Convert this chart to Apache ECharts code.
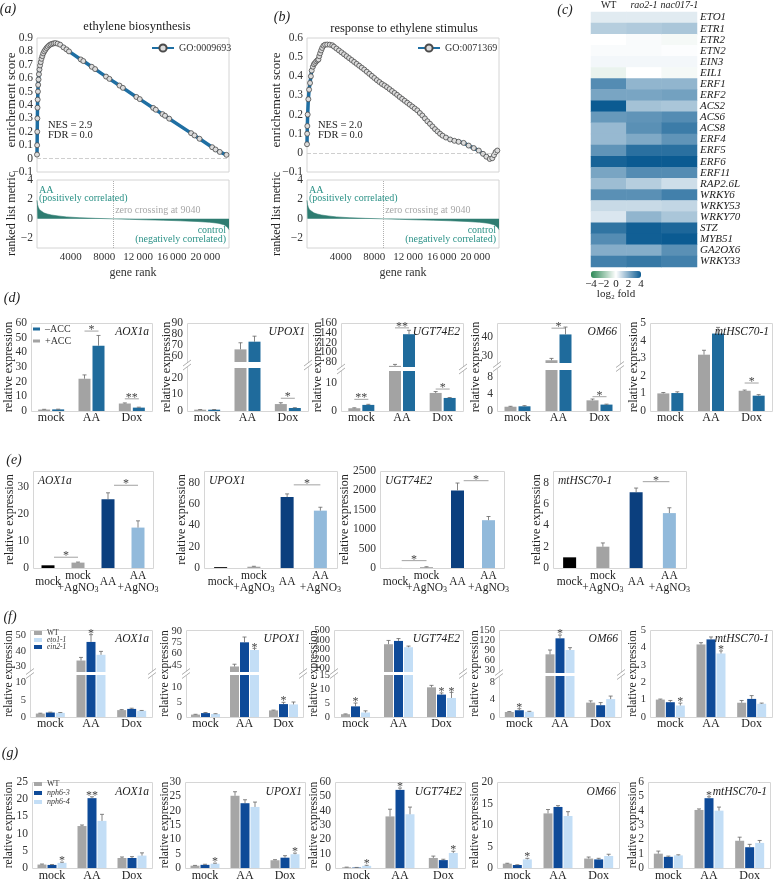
<!DOCTYPE html>
<html>
<head>
<meta charset="utf-8">
<title>ethylene figure</title>
<script src="https://cdn.jsdelivr.net/npm/echarts@6/dist/echarts.min.js"></script>
<style>
  html, body { margin: 0; padding: 0; background: #fff; }
  #chart { width: 776px; height: 882px; }
</style>
</head>
<body>
<div id="chart"></div>
<script>
// ---------- (a) (b) GSEA: running enrichment score, [gene rank, ES] ----------
const esBiosynthesis = [
  [0, 0.03], [15, 0.1], [30, 0.2], [45, 0.3], [60, 0.38], [80, 0.44], [110, 0.5], [140, 0.55], [180, 0.59],
  [230, 0.63], [290, 0.665], [360, 0.695], [440, 0.72], [530, 0.745], [630, 0.765], [740, 0.785], [860, 0.8],
  [990, 0.812], [1130, 0.825], [1280, 0.835], [1440, 0.845], [1610, 0.852], [1800, 0.857], [2000, 0.86],
  [2200, 0.862], [2450, 0.858], [2750, 0.85], [3150, 0.83], [3500, 0.815], [3800, 0.8], [5200, 0.74],
  [5500, 0.728], [6500, 0.685], [6900, 0.668], [8200, 0.612], [8600, 0.595], [9800, 0.545], [10200, 0.528],
  [11800, 0.46], [12200, 0.444], [13800, 0.378], [14100, 0.365], [14900, 0.332], [15200, 0.32], [15700, 0.298],
  [18300, 0.19], [18700, 0.173], [19300, 0.148], [20800, 0.085], [21200, 0.068], [21700, 0.05], [22500, 0.028]
];
const esResponse = [
  [0, 0.045], [20, 0.1], [40, 0.14], [80, 0.2], [160, 0.28], [250, 0.33], [360, 0.365], [460, 0.4], [560, 0.43],
  [700, 0.45], [820, 0.463], [960, 0.47], [1100, 0.478], [1250, 0.484], [1360, 0.488], [1450, 0.505],
  [1560, 0.52], [1680, 0.535], [1800, 0.548], [1960, 0.56], [2150, 0.565], [2400, 0.566], [2700, 0.565],
  [3000, 0.562], [3200, 0.555], [3500, 0.545], [3800, 0.535], [4100, 0.525], [4400, 0.515], [4700, 0.505],
  [5000, 0.495], [5300, 0.485], [5600, 0.475], [5900, 0.465], [6200, 0.455], [6500, 0.445], [6800, 0.435],
  [7100, 0.424], [7400, 0.413], [7700, 0.402], [8000, 0.391], [8300, 0.38], [8600, 0.37], [8900, 0.36],
  [9200, 0.352], [9500, 0.343], [9800, 0.333], [10100, 0.323], [10400, 0.313], [10700, 0.303], [11000, 0.292],
  [11300, 0.282], [11600, 0.272], [11900, 0.262], [12200, 0.252], [12500, 0.242], [12800, 0.232],
  [13100, 0.222], [13400, 0.208], [13700, 0.195], [14000, 0.18], [14300, 0.165], [14600, 0.152],
  [14900, 0.138], [15200, 0.124], [15500, 0.112], [15800, 0.1], [16100, 0.09], [16500, 0.08], [17000, 0.07],
  [17500, 0.063], [18000, 0.058], [18600, 0.052], [19200, 0.038], [19800, 0.025], [20400, 0.012],
  [20900, -0.005], [21300, -0.02], [21700, -0.032], [22000, -0.028], [22200, -0.012], [22400, 0.004], [22600, 0.012]
];
// ranked list metric (same ranking under both sets)
const rankedMetric = [
  [0, 1.9], [50, 1.5], [150, 1.2], [300, 0.95], [500, 0.78], [800, 0.62], [1200, 0.5], [1700, 0.4], [2500, 0.3],
  [3500, 0.2], [5000, 0.12], [7000, 0.05], [9040, 0], [11000, -0.05], [13000, -0.1], [15000, -0.14],
  [17000, -0.2], [19000, -0.27], [20500, -0.35], [21500, -0.45], [22200, -0.6], [22600, -0.85], [22800, -1.1]
];
const zeroCrossing = 9040;
const rankMax = 22800;
const rankTicks = [4000, 8000, 12000, 16000, 20000];
const esTicksA = [-0.1, 0, 0.1, 0.2, 0.3, 0.4, 0.5, 0.6, 0.7, 0.8, 0.9];
const esTicksB = [-0.1, 0, 0.1, 0.2, 0.3, 0.4, 0.5, 0.6];
const metricTicks = [-2, 0, 2, 4];

// ---------- (c) heatmap, log2 fold ----------
const heatGenes = ['ETO1', 'ETR1', 'ETR2', 'ETN2', 'EIN3', 'EIL1', 'ERF1', 'ERF2', 'ACS2', 'ACS6', 'ACS8', 'ERF4',
  'ERF5', 'ERF6', 'ERF11', 'RAP2.6L', 'WRKY6', 'WRKY53', 'WRKY70', 'STZ', 'MYB51', 'GA2OX6', 'WRKY33'];
const heatLines = ['WT', 'rao2-1', 'nac017-1'];
const heatWT = [0.5, 1.2, 0, 0.1, 0.2, -0.4, 2.8, 2.2, 4.2, 2.5, 1.7, 1.7, 2.6, 3.8, 2.2, 1.6, 2.7, 0.9, 0.6, 3.4, 2.8, 2.0, 3.1];
const heatRao2 = [0.5, 1.3, 0.1, 0.1, 0.2, 0, 1.8, 2.2, 1.5, 2.6, 2.7, 2.1, 3.5, 4.5, 2.8, 1.2, 2.7, 0.9, 1.8, 3.9, 3.9, 2.0, 3.3];
const heatNac017 = [0.5, 1.4, -0.2, 0.05, 0.2, -0.2, 1.8, 2.3, 1.4, 2.8, 3.2, 2.6, 3.5, 4.4, 2.8, 0.8, 3.1, 1.0, 1.4, 3.7, 4.3, 2.7, 3.1];
const heatScaleTicks = [-4, -2, 0, 2, 4];

// ---------- (d) -ACC / +ACC ----------
const treatments = ['mock', 'AA', 'Dox'];
const dGenes = ['AOX1a', 'UPOX1', 'UGT74E2', 'OM66', 'mtHSC70-1'];
const dPlusACC = [[1.0, 22, 5.1], [0.8, 66, 4.2], [1.0, 72, 6.5], [1.0, 27.5, 2.5], [1.0, 3.2, 1.15]];
const dPlusACCErr = [[0.15, 2.6, 0.4], [0.1, 6, 0.8], [0.15, 3, 0.5], [0.1, 1, 0.3], [0.05, 0.25, 0.04]];
const dMinusACC = [[1.1, 44.5, 2.3], [0.8, 73, 1.8], [2.2, 137, 4.7], [1.1, 41.5, 1.5], [1.02, 4.4, 0.87]];
const dMinusACCErr = [[0.15, 7, 0.3], [0.1, 5, 0.2], [0.2, 8, 0.15], [0.15, 4, 0.1], [0.07, 0.35, 0.06]];
// [category, y, mark]
const dSig = [
  [[1, 54.5, '*'], [2, 8.3, '**']],
  [[2, 7.7, '*']],
  [[0, 4.2, '**'], [1, 150, '**'], [2, 7.9, '*']],
  [[1, 44.9, '*'], [2, 3.35, '*']],
  [[2, 1.59, '*']]
];

// ---------- (e) AgNO3 ----------
const eGenes = ['AOX1a', 'UPOX1', 'UGT74E2', 'mtHSC70-1'];
const eTreatments = ['mock', 'mock\n+AgNO3', 'AA', 'AA\n+AgNO3'];
const eValues = [[1.0, 2.0, 25.5, 15], [0.8, 1.2, 66.5, 53.8], [1, 22, 2000, 1232], [1.0, 2.0, 7.1, 5.15]];
const eErr = [[0, 0.2, 2.4, 2.5], [0, 0.4, 3, 3.2], [0, 10, 190, 95], [0, 0.35, 0.4, 0.5]];
// [from category, to category, y, mark]
const eSig = [
  [[0, 1, 4.0, '*'], [2, 3, 30.7, '*']],
  [[2, 3, 78, '*']],
  [[0, 1, 190, '*'], [2, 3, 2250, '*']],
  [[2, 3, 8.1, '*']]
];

// ---------- (f) WT / ein2-1 / eto1-1 ----------
const fWT = [[1.0, 34, 2.0], [0.8, 43, 2.2], [1.0, 355, 10.6], [1.15, 77, 3.3], [1.0, 4.17, 0.82]];
const fWTErr = [[0.1, 2, 0.15], [0.1, 3, 0.1], [0.1, 40, 0.7], [0.1, 13, 0.4], [0.03, 0.1, 0.13]];
const fEin2 = [[1.3, 46, 2.35], [1.3, 75, 4.3], [3.8, 390, 8.0], [1.55, 125, 2.7], [0.85, 4.46, 1.04]];
const fEin2Err = [[0.1, 4.7, 0.2], [0.2, 7, 0.6], [1.2, 25, 0.6], [0.35, 10, 0.6], [0.1, 0.14, 0.19]];
const fEto1 = [[1.2, 37.7, 1.8], [1.0, 64.8, 4.2], [1.6, 323, 6.8], [1.2, 90, 4.1], [0.66, 3.65, 0.76]];
const fEto1Err = [[0.1, 2.2, 0.1], [0.1, 2.2, 0.8], [0.6, 12, 2], [0.1, 7, 0.7], [0.14, 0.15, 0.04]];
const fEin2Stars = [['', '*', ''], ['', '', '*'], ['*', '', '*'], ['*', '*', ''], ['', '', '']];
const fEto1Stars = [['', '', ''], ['', '*', ''], ['', '', '*'], ['', '', ''], ['*', '*', '']];

// ---------- (g) WT / nph6-3 / nph6-4 ----------
const gWT = [[1.0, 12.2, 2.9], [0.8, 25.2, 2.7], [0.5, 36, 7], [1.0, 12.7, 2.2], [1.0, 4.05, 1.9]];
const gWTErr = [[0.15, 0.3, 0.3], [0.1, 1.4, 0.2], [0.1, 5, 1.3], [0.1, 0.9, 0.35], [0.18, 0.07, 0.25]];
const gNph63 = [[0.9, 20.3, 2.9], [1.1, 22.6, 3.6], [0.3, 54.5, 5.5], [0.7, 14.2, 2.0], [0.78, 4.87, 1.45]];
const gNph63Err = [[0.1, 0.4, 0.4], [0.2, 1.2, 0.7], [0.1, 1.3, 0.6], [0.05, 0.3, 0.25], [0.05, 0.1, 0.2]];
const gNph64 = [[1.5, 13.7, 3.6], [1.5, 21.3, 4.8], [1.5, 37.5, 10.5], [2.0, 12.1, 2.8], [0.88, 4.0, 1.75]];
const gNph64Err = [[0.2, 1.9, 0.8], [0.2, 1.7, 0.4], [0.4, 5, 1.2], [0.25, 1.0, 0.4], [0.04, 0.25, 0.17]];
const gNph63Stars = [['', '**', ''], ['', '', ''], ['', '*', ''], ['', '', ''], ['', '*', '']];
const gNph64Stars = [['*', '', ''], ['*', '', '*'], ['*', '', '*'], ['*', '', ''], ['', '', '']];

// ================= drawing =================
const SERIF = "'Liberation Serif', 'DejaVu Serif', serif";
const grid = [], xAxis = [], yAxis = [], series = [], legend = [], graphic = [];
const tickJobs = [];   // value-axis labels placed through convertToPixel (dense broken axes)
const noDecor = { axisLine: { show: false }, axisTick: { show: false }, splitLine: { show: false } };

function addCartesian(l, t, r, b, xa, ya, extra) {
  grid.push(Object.assign({ left: l, top: t, width: r - l, height: b - t, outerBoundsMode: 'none' }, extra || {}));
  const gi = grid.length - 1;
  xAxis.push(Object.assign({ gridIndex: gi }, noDecor, xa));
  yAxis.push(Object.assign({ gridIndex: gi }, noDecor, ya));
  return gi;
}

function txt(x, y, text, size, o) {
  o = o || {};
  graphic.push({
    type: 'text', x: x, y: y, rotation: o.rot || 0, z: 50, silent: true,
    style: {
      text: text, fill: o.color || '#222',
      font: (o.italic ? 'italic ' : '') + size + 'px ' + SERIF,
      textAlign: o.align || 'left', textVerticalAlign: o.valign || 'middle'
    }
  });
}

const minusFmt = v => (v < 0 ? '\u2212' + String(-v) : String(v));
const rankFmt = v => (v >= 10000 ? String(v).slice(0, -3) + '\u2009000' : String(v));
function ticksLabel(values, size, fmt) {
  return { customValues: values, showMinLabel: true, showMaxLabel: true, hideOverlap: false,
    formatter: fmt || (v => String(v)), fontFamily: SERIF, fontSize: size, color: '#333', margin: 4 };
}

// ---- GSEA ----
function gseaPanel(o) {
  const gu = addCartesian(o.l, 38, o.r, 172,
    { type: 'value', min: 0, max: rankMax, axisLabel: { show: false } },
    { type: 'value', min: o.esMin, max: o.esMax, axisLabel: ticksLabel(o.esTicks, 11.5, minusFmt) },
    { show: true, borderColor: '#d4d4d4', borderWidth: 1 });
  series.push({
    type: 'line', name: o.go, xAxisIndex: gu, yAxisIndex: gu, data: o.es, z: 3,
    symbol: 'circle', symbolSize: 5, showSymbol: true, showAllSymbol: true,
    lineStyle: { color: '#1f6fa3', width: 3.5 },
    itemStyle: { color: '#dcdcdc', borderColor: '#4a4a4a', borderWidth: 0.8 },
    markLine: { silent: true, symbol: 'none', label: { show: false },
      lineStyle: { color: '#cfcfcf', type: 'dashed', width: 1 }, data: [{ yAxis: 0 }] }
  });
  legend.push({
    data: [o.go], left: o.legX, top: 43, itemWidth: 22, itemHeight: 9, padding: 0, selectedMode: false,
    textStyle: { fontFamily: SERIF, fontSize: 10, color: '#333' }
  });
  const gl = addCartesian(o.l, 180, o.r, 248,
    { type: 'value', min: 0, max: rankMax, axisLabel: ticksLabel(rankTicks, 11, rankFmt),
      name: 'gene rank', nameLocation: 'middle', nameGap: 19,
      nameTextStyle: { fontFamily: SERIF, fontSize: 12, color: '#333', verticalAlign: 'top' } },
    { type: 'value', min: -3, max: 4, axisLabel: ticksLabel(metricTicks, 11.5, minusFmt) },
    { show: true, borderColor: '#d4d4d4', borderWidth: 1 });
  series.push({
    type: 'line', xAxisIndex: gl, yAxisIndex: gl, data: rankedMetric, symbol: 'none', silent: true,
    lineStyle: { width: 0.6, color: '#2e7c71' }, areaStyle: { color: '#2e7c71', opacity: 1 },
    markLine: { silent: true, symbol: 'none', label: { show: false },
      lineStyle: { color: '#b0b0b0', type: 'dotted', width: 1 }, data: [{ xAxis: zeroCrossing }] }
  });
  txt(o.titleX, o.titleY, o.title, 12.5, { align: 'center' });
  txt(o.l + 11, 125, o.nes, 10.5);
  txt(o.l + 11, 135, 'FDR = 0.0', 10.5);
  txt(o.labX, 100, 'enrichement score', 13, { rot: Math.PI / 2, align: 'center' });
  txt(o.labX, 214, 'ranked list metric', 12, { rot: Math.PI / 2, align: 'center' });
  const teal = '#2a9186';
  txt(o.l + 2, 190, 'AA', 10, { color: teal });
  txt(o.l + 2, 198, '(positively correlated)', 10, { color: teal });
  txt(o.l + zeroCrossing / rankMax * (o.r - o.l) + 2, 210, 'zero crossing at ' + zeroCrossing, 10, { color: '#a8a8a8' });
  txt(o.r - 3, 230, 'control', 10, { color: teal, align: 'right' });
  txt(o.r - 3, 239, '(negatively correlated)', 10, { color: teal, align: 'right' });
}

gseaPanel({ l: 37, r: 229, es: esBiosynthesis, go: 'GO:0009693', title: 'ethylene biosynthesis', titleX: 137, titleY: 27,
  esMin: -0.1, esMax: 0.9, esTicks: esTicksA, nes: 'NES = 2.9', legX: 151, labX: 12 });
gseaPanel({ l: 307, r: 499, es: esResponse, go: 'GO:0071369', title: 'response to ethylene stimulus', titleX: 404, titleY: 29,
  esMin: -0.1, esMax: 0.6, esTicks: esTicksB, nes: 'NES = 2.0', legX: 417, labX: 277 });

// ---- heatmap ----
const hg = addCartesian(591, 12, 697, 267,
  { type: 'category', data: heatLines, position: 'top',
    axisLabel: { margin: 2, fontFamily: SERIF, fontSize: 10, color: '#222', interval: 0,
      formatter: (v, i) => (i === 0 ? v : '{it|' + v + '}'),
      rich: { it: { fontStyle: 'italic', fontFamily: SERIF, fontSize: 10, color: '#222' } } } },
  { type: 'category', data: heatGenes, inverse: true, position: 'right',
    axisLabel: { margin: 3, fontFamily: SERIF, fontSize: 11, fontStyle: 'italic', color: '#222', interval: 0 } });
const heatData = [];
[heatWT, heatRao2, heatNac017].forEach((col, c) => col.forEach((v, r) => heatData.push([c, r, v])));
series.push({ type: 'heatmap', xAxisIndex: hg, yAxisIndex: hg, data: heatData, silent: true, itemStyle: { borderWidth: 0 } });
const heatIdx = series.length - 1;
heatScaleTicks.forEach(t => txt(591 + (t + 4) / 8 * 50, 284, minusFmt(t), 11, { align: 'center' }));
txt(616, 294, 'log\u2082 fold', 11, { align: 'center' });

// ---- bar panels ----
function errorBars(off, seg, stars) {
  return function (params, api) {
    const c = api.value(0), v = api.value(1), e = api.value(2);
    if (v < seg.min || v > seg.max) return null;
    const p0 = api.coord([c, v]), p1 = api.coord([c, v + e]);
    const x = p0[0] + off;
    const kids = [];
    if (e > 0) {
      kids.push({ type: 'line', shape: { x1: x, y1: p0[1], x2: x, y2: p1[1] }, style: { stroke: '#666', lineWidth: 0.8 } });
      kids.push({ type: 'line', shape: { x1: x - 2, y1: p1[1], x2: x + 2, y2: p1[1] }, style: { stroke: '#666', lineWidth: 0.8 } });
    }
    const s = stars && stars[params.dataIndex];
    if (s) kids.push({ type: 'text', x: x, y: p1[1] + 5,
      style: { text: s, fill: '#444', font: '12px ' + SERIF, textAlign: 'center', textVerticalAlign: 'bottom' } });
    return { type: 'group', children: kids };
  };
}

function sigBrackets(items, mode, half) {
  return function (params, api) {
    const s = items[params.dataIndex];
    const a = api.coord([s[0], s[2]]), b = api.coord([s[1], s[2]]);
    const cw = api.size([1, 0])[0];
    const x0 = mode === 'pair' ? a[0] - half : a[0] + cw * 0.2;
    const x1 = mode === 'pair' ? a[0] + half : b[0];
    return { type: 'group', children: [
      { type: 'line', shape: { x1: x0, y1: a[1], x2: x1, y2: a[1] }, style: { stroke: '#8a8a8a', lineWidth: 0.8 } },
      { type: 'text', x: (x0 + x1) / 2, y: a[1] + 5,
        style: { text: s[3], fill: '#444', font: '12px ' + SERIF, textAlign: 'center', textVerticalAlign: 'bottom' } }
    ] };
  };
}

function breakMark(x, y) {
  graphic.push({ type: 'rect', z: 1, silent: true, shape: { x: x - 3, y: y - 2, width: 6, height: 4 }, style: { fill: '#fff' } });
  [-2, 2].forEach(d => graphic.push({ type: 'line', z: 2, silent: true,
    shape: { x1: x - 4, y1: y + d + 3, x2: x + 4, y2: y + d - 3 }, style: { stroke: '#9a9a9a', lineWidth: 0.8 } }));
}

function barPanel(p) {
  const f = p.frame;
  const top = p.segs[p.segs.length - 1].top, bottom = p.segs[0].bottom;
  graphic.push({ type: 'rect', z: 0, silent: true,
    shape: { x: f.l + 0.5, y: top + 0.5, width: f.r - f.l, height: bottom - top },
    style: { fill: 'none', stroke: '#d6d6d6', lineWidth: 1 } });
  const n = p.groups.length, step = p.barW + p.gap;
  p.segs.forEach((seg, k) => {
    const gi = addCartesian(f.l, seg.top, f.r, seg.bottom,
      { type: 'category', data: p.cats,
        axisLabel: k === 0 ? Object.assign({ fontFamily: SERIF, fontSize: 12, color: '#222', margin: p.xMargin, interval: 0 }, p.xLabel || {}) : { show: false } },
      { type: 'value', min: seg.min, max: seg.max, axisLabel: { show: false } });
    tickJobs.push({ axis: gi, ticks: seg.ticks, size: p.tickSize, x: f.l - 4 });
    p.groups.forEach((g, i) => {
      const off = (i - (n - 1) / 2) * step;
      series.push({ type: 'bar', name: g.name, xAxisIndex: gi, yAxisIndex: gi, silent: true,
        barWidth: p.barW, barGap: (p.gap / p.barW * 100) + '%', itemStyle: { color: g.color },
        data: g.values.map((v, c) => (g.colors ? { value: v, itemStyle: { color: g.colors[c] } } : v)) });
      series.push({ type: 'custom', xAxisIndex: gi, yAxisIndex: gi, silent: true, z: 3,
        data: g.values.map((v, c) => [c, v, g.errs[c]]), renderItem: errorBars(off, seg, g.stars) });
    });
    if (p.sig) {
      const items = p.sig.filter(s => s[2] >= seg.min && s[2] <= seg.max);
      if (items.length) series.push({ type: 'custom', xAxisIndex: gi, yAxisIndex: gi, silent: true, z: 4,
        data: items.map(s => [s[0], s[2], s[1]]), renderItem: sigBrackets(items, p.sigMode, step / 2) });
    }
  });
  for (let k = 1; k < p.segs.length; k++) {
    const mid = (p.segs[k].bottom + p.segs[k - 1].top) / 2;
    breakMark(f.l, mid);
    breakMark(f.r, mid);
  }
  if (p.titleLeft) txt(f.l + 5, top + 10, p.title, 11.5, { italic: true });
  else txt(f.r - 3, top + p.titleDy, p.title, 11.5, { italic: true, align: 'right' });
  txt(p.yLabX, (top + bottom) / 2, 'relative expression', p.yLabSize, { rot: Math.PI / 2, align: 'center' });
}

// (d)
const dFrames = [{ l: 31, r: 152 }, { l: 187, r: 308 }, { l: 341, r: 463 }, { l: 497, r: 620 }, { l: 650, r: 772 }];
const dSegs = [
  [{ top: 323, bottom: 411, min: 0, max: 60, ticks: [0, 10, 20, 30, 40, 50, 60] }],
  [{ top: 368, bottom: 411, min: 0, max: 26, ticks: [0, 10, 20] }, { top: 323, bottom: 362, min: 54.5, max: 90, ticks: [60, 70, 80, 90] }],
  [{ top: 371, bottom: 411, min: 0, max: 14.4, ticks: [0, 10] }, { top: 323, bottom: 367, min: 69.7, max: 160, ticks: [80, 100, 120, 140, 160] }],
  [{ top: 370, bottom: 411, min: 0, max: 9.6, ticks: [0, 4, 8] }, { top: 323, bottom: 363, min: 26, max: 47.7, ticks: [30, 40] }],
  [{ top: 323, bottom: 411, min: 0, max: 5, ticks: [0, 1, 2, 3, 4, 5] }]
];
const dYLabX = [9, 167, 318, 476, 634];
dGenes.forEach((gene, i) => barPanel({
  frame: dFrames[i], segs: dSegs[i], cats: treatments, barW: 12, gap: 2, tickSize: 11.5, xMargin: 1,
  groups: [
    { name: '+ACC', color: '#a3a3a3', values: dPlusACC[i], errs: dPlusACCErr[i] },
    { name: '\u2013ACC', color: '#1f6b9c', values: dMinusACC[i], errs: dMinusACCErr[i] }
  ],
  sig: dSig[i].map(s => [s[0], s[0], s[1], s[2]]), sigMode: 'pair',
  title: gene, titleDy: 9, yLabX: dYLabX[i], yLabSize: 12
}));
legend.push({ data: ['\u2013ACC', '+ACC'], left: 33, top: 324, orient: 'vertical', icon: 'rect', itemWidth: 7, itemHeight: 3,
  itemGap: 2, padding: 0, selectedMode: false, textStyle: { fontFamily: SERIF, fontSize: 10, color: '#333' } });

// (e)
const eFrames = [{ l: 33, r: 153 }, { l: 204, r: 337 }, { l: 380, r: 504 }, { l: 553, r: 686 }];
const eSegs = [
  [{ top: 471, bottom: 568, min: 0, max: 36, ticks: [0, 10, 20, 30] }],
  [{ top: 471, bottom: 568, min: 0, max: 91, ticks: [0, 20, 40, 60, 80] }],
  [{ top: 471, bottom: 568, min: 0, max: 2500, ticks: [0, 500, 1000, 1500, 2000, 2500] }],
  [{ top: 471, bottom: 568, min: 0, max: 9.1, ticks: [0, 2, 4, 6, 8] }]
];
const eYLabX = [10, 182, 345, 537];
const eColors = ['#000000', '#a3a3a3', '#0b3f7e', '#92badb'];
eGenes.forEach((gene, i) => barPanel({
  frame: eFrames[i], segs: eSegs[i], cats: eTreatments, barW: 13, gap: 0, tickSize: 11.5, xMargin: 14,
  xLabel: { verticalAlign: 'middle', lineHeight: 12, fontSize: 11.5,
    formatter: v => v.replace('AgNO3', 'AgNO{sub|3}'),
    rich: { sub: { fontSize: 8, fontFamily: SERIF, color: '#222', verticalAlign: 'bottom', lineHeight: 12, padding: [4, 0, 0, 0] } } },
  groups: [{ name: 'e', color: '#000', colors: eColors, values: eValues[i], errs: eErr[i] }],
  sig: eSig[i], sigMode: 'span',
  title: gene, titleLeft: true, yLabX: eYLabX[i], yLabSize: 12
}));

// (f)
const fFrames = [{ l: 30, r: 152 }, { l: 186, r: 303 }, { l: 334, r: 463 }, { l: 499, r: 621 }, { l: 650, r: 772 }];
const fSegs = [
  [{ top: 675, bottom: 717, min: 0, max: 12.2, ticks: [0, 5, 10] }, { top: 630, bottom: 672, min: 26.6, max: 53.7, ticks: [30, 40, 50] }],
  [{ top: 675, bottom: 717, min: 0, max: 14, ticks: [0, 5, 10] }, { top: 630, bottom: 672, min: 35.7, max: 91.3, ticks: [45, 60, 75, 90] }],
  [{ top: 675, bottom: 717, min: 0, max: 15, ticks: [0, 5, 10, 15] }, { top: 630, bottom: 672, min: 60, max: 506, ticks: [100, 200, 300, 400, 500] }],
  [{ top: 676, bottom: 717, min: 0, max: 9.4, ticks: [0, 4, 8] }, { top: 630, bottom: 673, min: 21, max: 150, ticks: [30, 60, 90, 120, 150] }],
  [{ top: 630, bottom: 717, min: 0, max: 5, ticks: [0, 1, 2, 3, 4, 5] }]
];
const fgYLabX = [9, 165, 314, 475, 633];
const NAVY = '#0e4a98', LIGHT = '#c3def6', GRAY = '#a6a6a6';
dGenes.forEach((gene, i) => barPanel({
  frame: fFrames[i], segs: fSegs[i], cats: treatments, barW: 9, gap: 1, tickSize: 10.5, xMargin: 1,
  groups: [
    { name: 'WT', color: GRAY, values: fWT[i], errs: fWTErr[i] },
    { name: 'ein2-1', color: NAVY, values: fEin2[i], errs: fEin2Err[i], stars: fEin2Stars[i] },
    { name: 'eto1-1', color: LIGHT, values: fEto1[i], errs: fEto1Err[i], stars: fEto1Stars[i] }
  ],
  title: gene, titleDy: 9, yLabX: fgYLabX[i], yLabSize: 11.5
}));
legend.push({ data: ['WT', 'eto1-1', 'ein2-1'], left: 34, top: 629, orient: 'vertical', icon: 'rect', itemWidth: 8, itemHeight: 4,
  itemGap: -1, padding: 0, selectedMode: false,
  formatter: nm => (nm === 'WT' ? nm : '{i|' + nm + '}'),
  textStyle: { fontFamily: SERIF, fontSize: 7.5, color: '#333', rich: { i: { fontStyle: 'italic', fontFamily: SERIF, fontSize: 7.5, color: '#333' } } } });

// (g)
const gFrames = [{ l: 32, r: 152 }, { l: 185, r: 305 }, { l: 335, r: 465 }, { l: 497, r: 619 }, { l: 648, r: 770 }];
const gSegs = [
  [{ top: 782, bottom: 868, min: 0, max: 25, ticks: [0, 5, 10, 15, 20, 25] }],
  [{ top: 782, bottom: 868, min: 0, max: 30, ticks: [0, 5, 10, 15, 20, 25, 30] }],
  [{ top: 782, bottom: 868, min: 0, max: 60, ticks: [0, 10, 20, 30, 40, 50, 60] }],
  [{ top: 782, bottom: 868, min: 0, max: 20, ticks: [0, 5, 10, 15, 20] }],
  [{ top: 782, bottom: 868, min: 0, max: 6, ticks: [0, 1, 2, 3, 4, 5, 6] }]
];
dGenes.forEach((gene, i) => barPanel({
  frame: gFrames[i], segs: gSegs[i], cats: treatments, barW: 9, gap: 1, tickSize: 11.5, xMargin: 2,
  groups: [
    { name: 'WT', color: GRAY, values: gWT[i], errs: gWTErr[i] },
    { name: 'nph6-3', color: NAVY, values: gNph63[i], errs: gNph63Err[i], stars: gNph63Stars[i] },
    { name: 'nph6-4', color: LIGHT, values: gNph64[i], errs: gNph64Err[i], stars: gNph64Stars[i] }
  ],
  title: gene, titleDy: 10, yLabX: fgYLabX[i], yLabSize: 11.5
}));
legend.push({ data: ['WT', 'nph6-3', 'nph6-4'], left: 34, top: 780, orient: 'vertical', icon: 'rect', itemWidth: 8, itemHeight: 4,
  itemGap: 1, padding: 0, selectedMode: false,
  formatter: nm => (nm === 'WT' ? nm : '{i|' + nm + '}'),
  textStyle: { fontFamily: SERIF, fontSize: 8, color: '#333', rich: { i: { fontStyle: 'italic', fontFamily: SERIF, fontSize: 8, color: '#333' } } } });

// panel letters
[['(a)', 8, 9], ['(b)', 282, 17], ['(c)', 565, 10], ['(d)', 12, 298], ['(e)', 14, 460], ['(f)', 10, 617], ['(g)', 10, 753]]
  .forEach(t => txt(t[1], t[2], t[0], 14, { italic: true, align: 'center' }));

const chart = echarts.init(document.getElementById('chart'), null, { renderer: 'canvas' });
chart.setOption({
  animation: false,
  backgroundColor: '#ffffff',
  textStyle: { fontFamily: SERIF },
  grid: grid,
  xAxis: xAxis,
  yAxis: yAxis,
  legend: legend,
  visualMap: [{
    type: 'continuous', seriesIndex: heatIdx, dimension: 2, min: -4, max: 4, orient: 'horizontal',
    left: 591, top: 271, itemWidth: 7, itemHeight: 50, padding: 0, calculable: false, hoverLink: false,
    inRange: { color: ['#2f8a57', '#ffffff', '#0b5b92'] }
  }],
  series: series,
  graphic: { elements: graphic }
});

// y tick labels of the bar panels, positioned by each axis's own scale
tickJobs.forEach(j => j.ticks.forEach(v => {
  const y = chart.convertToPixel({ yAxisIndex: j.axis }, v);
  txt(j.x, y, String(v), j.size, { align: 'right', color: '#333' });
}));
chart.setOption({ graphic: { elements: graphic } });
</script>
</body>
</html>
